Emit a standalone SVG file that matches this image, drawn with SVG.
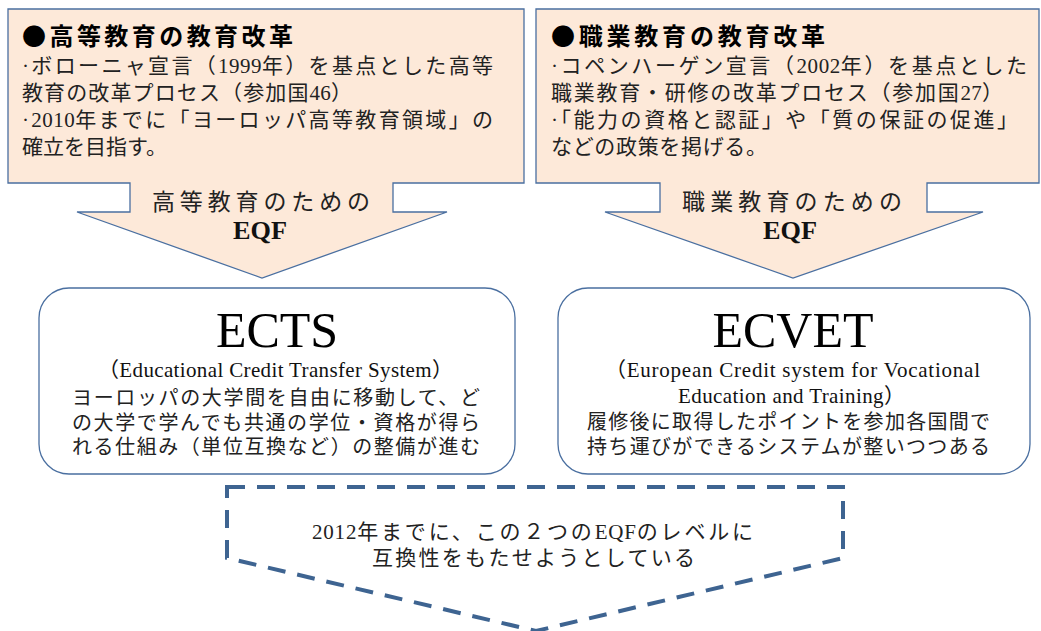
<svg xmlns="http://www.w3.org/2000/svg" width="1041" height="631" viewBox="0 0 1041 631">
<style>
.callout{fill:#FDE9D9;stroke:#4A6FA0;stroke-width:1.3}
.box{fill:#FFFFFF;stroke:#4A6FA0;stroke-width:1.3}
.dash{fill:none;stroke:#3E6491;stroke-width:4;stroke-dasharray:18 12}
.title{font-family:"Noto Sans CJK JP","Liberation Sans",sans-serif;font-weight:bold;font-size:24px;fill:#000}
.body{font-family:"Liberation Serif","Noto Sans CJK JP",serif;font-size:21px;fill:#222}
.jp{font-family:"Liberation Serif","Noto Sans CJK JP",serif;font-size:20px;fill:#222}
.lbl{font-family:"Liberation Serif","Noto Sans CJK JP",serif;font-size:23px;fill:#222}
.eqf{font-family:"Liberation Serif","Noto Sans CJK JP",serif;font-weight:bold;font-size:25px;fill:#111}
.big{font-family:"Liberation Serif","Noto Sans CJK JP",serif;font-size:50px;fill:#000;text-anchor:middle}
.sub{font-family:"Liberation Serif","Noto Sans CJK JP",serif;font-size:21px;fill:#111}
</style>
<rect width="1041" height="631" fill="#FFFFFF"/>
<g id="higher-ed-reform">
<path class="callout" d="M8,9 H524 V183 H393 V212 H447 L262,278 L77,212 H130 V183 H8 Z"/>
<text class="title" x="22" y="45" textLength="271" lengthAdjust="spacing">●高等教育の教育改革</text>
<text class="body" x="22" y="73" textLength="471" lengthAdjust="spacing">·ボローニャ宣言（<tspan letter-spacing="-1.9">1999</tspan>年）を基点とした高等</text>
<text class="body" x="22" y="100" textLength="330" lengthAdjust="spacing">教育の改革プロセス（参加国<tspan letter-spacing="-0.9">46</tspan>）</text>
<text class="body" x="22" y="127" textLength="471" lengthAdjust="spacing">·<tspan letter-spacing="-1.9">2010</tspan>年までに「ヨーロッパ高等教育領域」の</text>
<text class="body" x="22" y="154" textLength="145" lengthAdjust="spacing">確立を目指す。</text>
<text class="lbl" x="152" y="210" textLength="218" lengthAdjust="spacing">高等教育のための</text>
<text class="eqf" x="233" y="239" textLength="54" lengthAdjust="spacingAndGlyphs">EQF</text>
</g>
<g id="vocational-ed-reform">
<path class="callout" d="M536,9 H1039 V183 H927 V212 H983 L793,278 L605,212 H660 V183 H536 Z"/>
<text class="title" x="551" y="45" textLength="274" lengthAdjust="spacing">●職業教育の教育改革</text>
<text class="body" x="551" y="73" textLength="476" lengthAdjust="spacing">·コペンハーゲン宣言（<tspan letter-spacing="-2">2002</tspan>年）を基点とした</text>
<text class="body" x="551" y="100" textLength="452" lengthAdjust="spacing">職業教育・研修の改革プロセス（参加国<tspan letter-spacing="-1.5">27</tspan>）</text>
<text class="body" x="551" y="127" textLength="467" lengthAdjust="spacing">·「能力の資格と認証」や「質の保証の促進」</text>
<text class="body" x="551" y="154" textLength="216" lengthAdjust="spacing">などの政策を掲げる。</text>
<text class="lbl" x="682" y="210" textLength="220" lengthAdjust="spacing">職業教育のための</text>
<text class="eqf" x="763" y="239" textLength="54" lengthAdjust="spacingAndGlyphs">EQF</text>
</g>
<g id="ects">
<rect class="box" x="39" y="288" width="476" height="186" rx="30" ry="30"/>
<text class="big" x="277" y="347">ECTS</text>
<text class="sub" x="98" y="377" textLength="355" lengthAdjust="spacing">（Educational Credit Transfer System）</text>
<text class="jp" x="72" y="405" textLength="408" lengthAdjust="spacing">ヨーロッパの大学間を自由に移動して、ど</text>
<text class="jp" x="72" y="430" textLength="408" lengthAdjust="spacing">の大学で学んでも共通の学位・資格が得ら</text>
<text class="jp" x="72" y="454" textLength="408" lengthAdjust="spacing">れる仕組み（単位互換など）の整備が進む</text>
</g>
<g id="ecvet">
<rect class="box" x="558" y="288" width="472" height="186" rx="30" ry="30"/>
<text class="big" x="793" y="347">ECVET</text>
<text class="sub" x="605" y="377" textLength="375" lengthAdjust="spacing">（European Credit system for Vocational</text>
<text class="sub" x="678" y="403" textLength="227" lengthAdjust="spacing">Education and Training）</text>
<text class="jp" x="587" y="429" textLength="403" lengthAdjust="spacing">履修後に取得したポイントを参加各国間で</text>
<text class="jp" x="587" y="454" textLength="403" lengthAdjust="spacing">持ち運びができるシステムが整いつつある</text>
</g>
<g id="connectors">
<path class="dash" d="M227,487 H843 V558 L536,631 L227,558 Z"/>
</g>
<g id="compatibility-note">
<text class="body" x="312" y="539" textLength="441" lengthAdjust="spacing"><tspan letter-spacing="-2">2012</tspan>年までに、この２つの<tspan letter-spacing="-2">EQF</tspan>のレベルに</text>
<text class="body" x="372" y="565" textLength="323" lengthAdjust="spacing">互換性をもたせようとしている</text>
</g>
</svg>
